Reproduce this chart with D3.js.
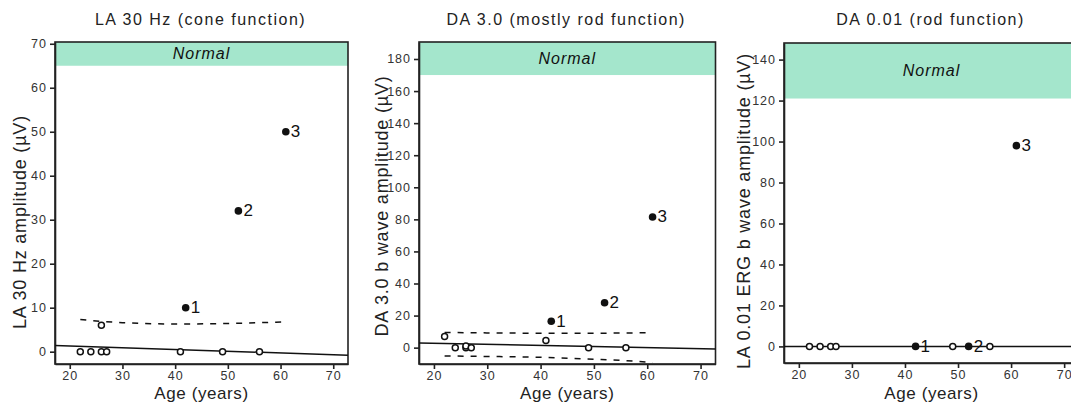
<!DOCTYPE html>
<html>
<head>
<meta charset="utf-8">
<script src="https://cdn.jsdelivr.net/npm/d3@7"></script>
<style>
  body { margin: 0; background: #fff; }
  text { font-family: "Liberation Sans", Arial, sans-serif; }
</style>
</head>
<body>
<svg id="chart"></svg>
<script>
// ages of the patients (open = controls-ish, filled = numbered cases)
var openAge = [22, 24, 26, 26, 27, 41, 49, 56];
var caseAge = [42, 52, 61];
var caseLabels = ['1', '2', '3'];

// LA 30 Hz
var la30Open = [0, 0, 0, 6, 0, 0, 0, 0];
var la30Case = [10, 32, 50];
var la30FitX = [17.2, 72.8];
var la30FitY = [1.4, -0.8];
var la30DashX = [22, 30, 40, 50, 61];
var la30DashY = [7.3, 6.6, 6.3, 6.4, 6.8];
var la30Normal = 65;

// DA 3.0
var da3Open = [7, 0, 0, 1, 0, 4.5, 0, 0];
var da3Case = [16.5, 28, 81.5];
var da3FitX = [17.2, 72.8];
var da3FitY = [2.9, -0.9];
var da3UpX = [22, 30, 40, 50, 61];
var da3UpY = [9.5, 9.2, 9.0, 9.0, 9.4];
var da3LoX = [22, 30, 40, 50, 56, 61];
var da3LoY = [-5.2, -5.5, -6.0, -7.2, -8.1, -9.3];
var da3Normal = 170;

// DA 0.01
var da001Open = [0, 0, 0, 0, 0, 0];
var da001OpenAge = [22, 24, 26, 27, 49, 56];
var da001Case = [0, 0, 98];
var da001FitX = [17.2, 72.8];
var da001FitY = [0, 0];
var da001Normal = 121;

var xTicks = [20, 30, 40, 50, 60, 70];

var W = 1071, H = 403;
var svg = d3.select('#chart').attr('width', W).attr('height', H);

var panels = [
  { title: 'LA 30 Hz (cone function)', ylabel: 'LA 30 Hz amplitude (\u00b5V)',
    box: [55, 348, 42, 364], ydom: [-2.8, 70.4], yticks: d3.range(0, 71, 10),
    normal: la30Normal, openX: openAge, openY: la30Open, caseY: la30Case,
    fit: [la30FitX, la30FitY], dashes: [[la30DashX, la30DashY]],
    ylx: 26, yly: 222 },
  { title: 'DA 3.0 (mostly rod function)', ylabel: 'DA 3.0 b wave amplitude (\u00b5V)',
    box: [419, 715.5, 42, 364], ydom: [-10.2, 190.6], yticks: d3.range(0, 181, 20),
    normal: da3Normal, openX: openAge, openY: da3Open, caseY: da3Case,
    fit: [da3FitX, da3FitY], dashes: [[da3UpX, da3UpY], [da3LoX, da3LoY]],
    ylx: 388, yly: 206 },
  { title: 'DA 0.01 (rod function)', ylabel: 'LA 0.01 ERG b wave amplitude (\u00b5V)',
    box: [784, 1079, 43, 363], ydom: [-8.1, 148.1], yticks: d3.range(0, 141, 20),
    normal: da001Normal, openX: da001OpenAge, openY: da001Open, caseY: da001Case,
    fit: [da001FitX, da001FitY], dashes: [],
    ylx: 750, yly: 211 }
];

panels.forEach(function (p) {
  var l = p.box[0], r = p.box[1], t = p.box[2], b = p.box[3];
  var x = d3.scaleLinear().domain([17.2, 72.8]).range([l, r]);
  var y = d3.scaleLinear().domain(p.ydom).range([b, t]);

  var g = svg.append('g');

  // normal band
  g.append('rect')
    .attr('x', l).attr('y', t)
    .attr('width', r - l).attr('height', y(p.normal) - t)
    .attr('fill', '#a4e6cc');
  g.append('text')
    .attr('x', (l + r) / 2).attr('y', (t + y(p.normal)) / 2 + 1)
    .attr('text-anchor', 'middle').attr('dominant-baseline', 'middle')
    .attr('font-size', '16px').attr('font-style', 'italic')
    .attr('letter-spacing', '1px').attr('fill', '#111')
    .text('Normal');

  // frame
  g.append('rect')
    .attr('x', l).attr('y', t).attr('width', r - l).attr('height', b - t)
    .attr('fill', 'none').attr('stroke', '#222').attr('stroke-width', 1.6);

  // axes
  var ya = g.append('g').attr('transform', 'translate(' + l + ',0)')
    .call(d3.axisLeft(y).tickValues(p.yticks).tickSize(5).tickPadding(3).tickSizeOuter(0));
  var xa = g.append('g').attr('transform', 'translate(0,' + b + ')')
    .call(d3.axisBottom(x).tickValues(xTicks).tickSize(5).tickPadding(2).tickSizeOuter(0));
  [ya, xa].forEach(function (a) {
    a.select('.domain').attr('stroke', '#222').attr('stroke-width', 1.6);
    a.selectAll('.tick line').attr('stroke', '#222').attr('stroke-width', 1.6);
    a.selectAll('.tick text').attr('fill', '#333').attr('font-size', '12.5px')
      .attr('letter-spacing', '1px')
      .attr('font-family', '"Liberation Sans", Arial, sans-serif');
  });

  var line = d3.line().x(function (d) { return x(d[0]); }).y(function (d) { return y(d[1]); });

  // regression line
  g.append('path')
    .datum(d3.zip(p.fit[0], p.fit[1]))
    .attr('d', line).attr('fill', 'none')
    .attr('stroke', '#111').attr('stroke-width', 1.5);

  // confidence dashes
  p.dashes.forEach(function (ds) {
    g.append('path')
      .datum(d3.zip(ds[0], ds[1]))
      .attr('d', line.curve(d3.curveMonotoneX)).attr('fill', 'none')
      .attr('stroke', '#111').attr('stroke-width', 1.5)
      .attr('stroke-dasharray', '6,7');
    line.curve(d3.curveLinear);
  });

  // open points
  g.selectAll('.open')
    .data(d3.zip(p.openX, p.openY))
    .enter().append('circle')
    .attr('cx', function (d) { return x(d[0]); })
    .attr('cy', function (d) { return y(d[1]); })
    .attr('r', 3)
    .attr('fill', '#fff').attr('stroke', '#111').attr('stroke-width', 1.5);

  // cases
  var cases = d3.zip(caseAge, p.caseY, caseLabels);
  g.selectAll('.case')
    .data(cases)
    .enter().append('circle')
    .attr('cx', function (d) { return x(d[0]); })
    .attr('cy', function (d) { return y(d[1]); })
    .attr('r', 3.8).attr('fill', '#111');
  g.selectAll('.clabel')
    .data(cases)
    .enter().append('text')
    .attr('x', function (d) { return x(d[0]) + 5; })
    .attr('y', function (d) { return y(d[1]) + 1; })
    .attr('dominant-baseline', 'middle')
    .attr('font-size', '17px').attr('fill', '#111')
    .text(function (d) { return d[2]; });

  // titles
  g.append('text')
    .attr('x', (l + r) / 2 - 1).attr('y', 25)
    .attr('text-anchor', 'middle')
    .attr('font-size', '16px').attr('letter-spacing', '1.5px').attr('fill', '#222')
    .text(p.title);
  g.append('text')
    .attr('x', (l + r) / 2).attr('y', 399)
    .attr('text-anchor', 'middle')
    .attr('font-size', '17px').attr('letter-spacing', '0.6px').attr('fill', '#222')
    .text('Age (years)');
  g.append('text')
    .attr('transform', 'translate(' + p.ylx + ',' + p.yly + ') rotate(-90)')
    .attr('text-anchor', 'middle')
    .attr('font-size', '18px').attr('letter-spacing', '0.8px').attr('fill', '#222')
    .text(p.ylabel);
});
</script>
</body>
</html>
